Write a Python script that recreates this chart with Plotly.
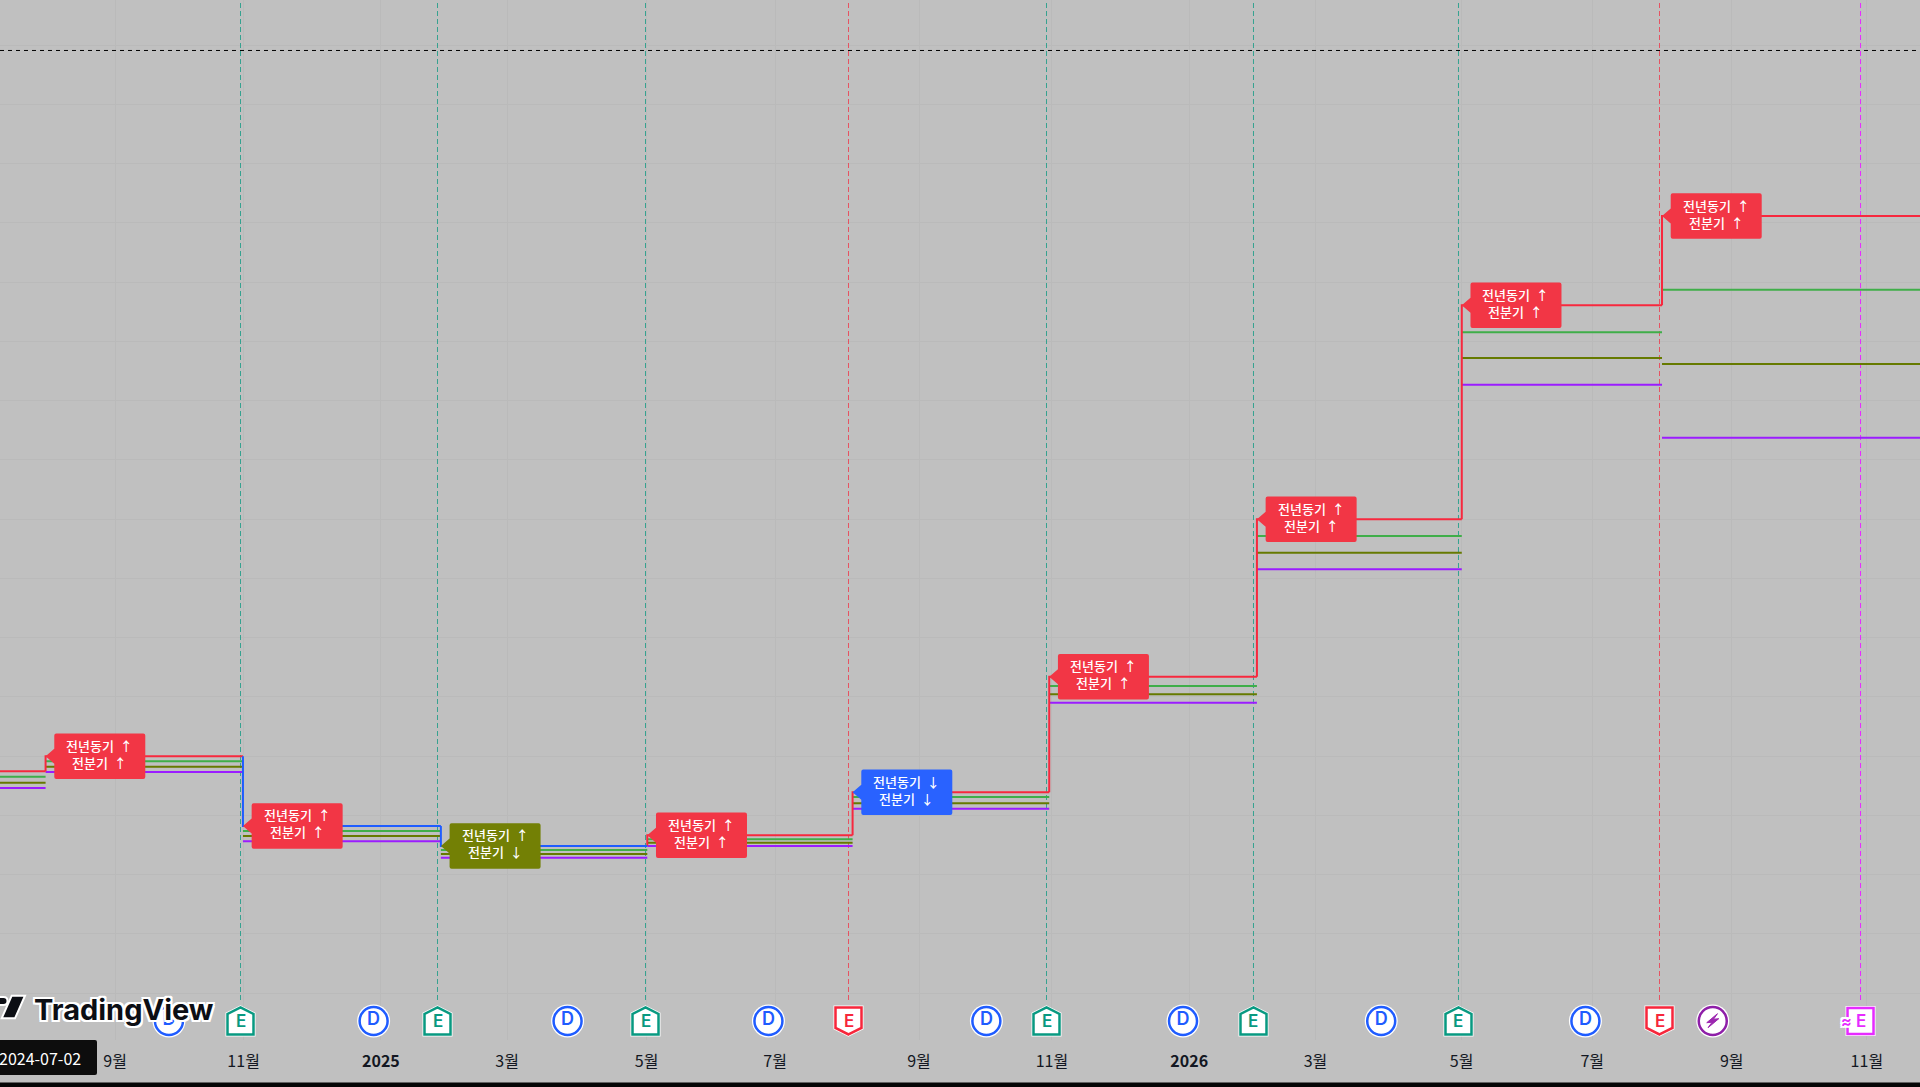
"""TradingView style earnings chart: estimate steps with surprise tags."""

import plotly.graph_objects as go

# ---------------------------------------------------------------------------
# Data
# ---------------------------------------------------------------------------

# Earnings steps: each level runs from step_dates[i] to step_dates[i + 1]
step_dates = [
    "2024-05-01", "2024-08-01 14:00", "2024-10-29 17:00", "2025-01-27 02:00",
    "2025-04-30 07:00", "2025-08-01", "2025-10-28 19:00", "2026-01-30 14:00",
    "2026-05-03 02:00", "2026-08-01 12:00", "2027-01-01",
]
actual_values = [47.42, 49.96, 38.19, 34.82, 36.62, 43.88, 63.39, 89.95, 126.07, 141.14]
high_values = [46.51, 49.11, 37.35, 34.14, 35.95, 43.09, 61.82, 87.14, 121.52, 128.71]
mean_values = [45.50, 48.20, 36.50, 33.47, 35.37, 42.02, 60.42, 84.32, 117.18, 116.17]
low_values = [44.60, 47.31, 35.61, 32.84, 34.82, 41.11, 59.00, 81.52, 112.67, 103.73]
actual_dirs = ["up", "up", "down", "down", "up", "up", "up", "up", "up", "up"]

# Tags, one for each step after the first
yoy_arrows = ["↑", "↑", "↑", "↑", "↓", "↑", "↑", "↑", "↑"]
qoq_arrows = ["↑", "↑", "↓", "↑", "↓", "↑", "↑", "↑", "↑"]

# Events along the bottom of the pane
earnings_dates = [
    "2024-10-28 14:24", "2025-01-25 13:26", "2025-04-29 11:46", "2025-07-30 03:40",
    "2025-10-27 13:26", "2026-01-29 00:43", "2026-05-01 14:24", "2026-07-31 08:53",
    "2026-10-30 03:22",
]
earnings_kinds = ["beat", "beat", "beat", "miss", "beat", "beat", "beat", "miss", "next"]
dividend_dates = [
    "2024-09-26 07:00", "2024-12-27 17:00", "2025-03-25 07:00", "2025-06-24",
    "2025-09-30 10:00", "2025-12-28 05:00", "2026-03-27 17:00", "2026-06-27 22:00",
]
split_date = "2026-08-24 10:00"

tick_dates = [
    "2024-09-02", "2024-10-30", "2024-12-31", "2025-02-26", "2025-04-30", "2025-06-27",
    "2025-08-31", "2025-10-30", "2025-12-31", "2026-02-26", "2026-05-03", "2026-07-01",
    "2026-09-02", "2026-11-02",
]
tick_labels = ["9월", "11월", "<b>2025</b>", "3월", "5월", "7월", "9월", "11월",
               "<b>2026</b>", "3월", "5월", "7월", "9월", "11월"]

last_price = 169.08
icon_level = 5.28
event_line_bottom = 8.82

# ---------------------------------------------------------------------------
# Styles
# ---------------------------------------------------------------------------

BG = "#c0c0c0"
GRID = "#bababa"
INK = "#131722"
RED = "#f7283e"
TAG_RED = "#f23645"
BLUE = "#1f5cff"
TAG_BLUE = "#2962ff"
TAG_OLIVE = "#738005"
GREEN = "#3fae49"
OLIVE = "#667a00"
PURPLE = "#9b1cff"
FONT = "Noto Sans CJK KR"
ICON_COLORS = {"beat": "#089981", "miss": "#f7263b", "next": "#e62bff"}
LINE_OPACITY = {"beat": 0.75, "miss": 0.7, "next": 1}
HALO = ",".join(f"{x}px {y}px 0 white" for x, y in
                [(-2, 0), (2, 0), (0, -2), (0, 2), (-2, -2), (2, -2), (-2, 2), (2, 2)])

X_RANGE = ["2024-07-12", "2026-11-26"]
Y_RANGE = [2.07, 177.6]
PANE_BOTTOM = 47


def step_xy(values):
    """One flat piece per step, with gaps between them."""
    xs, ys = [], []
    for i, value in enumerate(values):
        xs += [step_dates[i], step_dates[i + 1], None]
        ys += [value, value, None]
    return xs, ys


def actual_xy(direction):
    """Flat piece plus the riser into it, for the steps going one way."""
    xs, ys = [], []
    for i, value in enumerate(actual_values):
        if actual_dirs[i] != direction:
            continue
        start = actual_values[i - 1] if i else value
        xs += [step_dates[i], step_dates[i], step_dates[i + 1], None]
        ys += [start, value, value, None]
    return xs, ys


def tag_path():
    return ("M0,0 L8.7,7.5 L8.7,20.8 Q8.7,22.8 10.7,22.8 L97.7,22.8 Q99.7,22.8 99.7,20.8 "
            "L99.7,-20.8 Q99.7,-22.8 97.7,-22.8 L10.7,-22.8 Q8.7,-22.8 8.7,-20.8 L8.7,-7.5 Z")


def pixel_shape(x, y, path, fill, line=None, width=0, xref="x", yref="y"):
    """Path drawn in screen pixels around an anchor on the axes."""
    return dict(
        type="path", path=path, layer="above",
        xref=xref, yref=yref, xsizemode="pixel", ysizemode="pixel", xanchor=x, yanchor=y,
        fillcolor=fill, line=dict(color=line or fill, width=width),
    )


def icon_path(kind):
    if kind == "beat":
        return "M0,13.5 L13,7 L13,-13.5 L-13,-13.5 L-13,7 Z"
    if kind == "miss":
        return "M0,-13.5 L13,-7 L13,13.5 L-13,13.5 L-13,-7 Z"
    return "M-13,13 L13,13 L13,-13 L-13,-13 Z"


fig = go.Figure()

# Dashed event lines
for date, kind in zip(earnings_dates, earnings_kinds):
    fig.add_trace(go.Scatter(
        x=[date, date], y=[event_line_bottom, Y_RANGE[1]], mode="lines", opacity=LINE_OPACITY[kind],
        line=dict(color=ICON_COLORS[kind], width=1, dash="5px,3px"),
    ))

fig.add_trace(go.Scatter(
    x=[X_RANGE[0], X_RANGE[1]], y=[last_price, last_price], mode="lines",
    line=dict(color="#000000", width=1, dash="4px,4px"),
))

for values, color in [(low_values, PURPLE), (mean_values, OLIVE), (high_values, GREEN)]:
    xs, ys = step_xy(values)
    fig.add_trace(go.Scatter(x=xs, y=ys, mode="lines", line=dict(color=color, width=2)))

for direction, color in [("up", RED), ("down", BLUE)]:
    xs, ys = actual_xy(direction)
    fig.add_trace(go.Scatter(x=xs, y=ys, mode="lines", line=dict(color=color, width=2)))

# Dividend and split circles
circle_dates = dividend_dates + [split_date]
fig.add_trace(go.Scatter(
    x=circle_dates, y=[icon_level] * len(circle_dates), mode="markers",
    marker=dict(size=33, color="white"),
))
fig.add_trace(go.Scatter(
    x=dividend_dates, y=[icon_level] * len(dividend_dates), mode="markers+text",
    marker=dict(size=28, color="white", line=dict(color=BLUE, width=2.5)),
    text=["D"] * len(dividend_dates), textposition="middle center",
    textfont=dict(family="Inter", size=18, color=BLUE, weight=600),
))
fig.add_trace(go.Scatter(
    x=[split_date], y=[icon_level], mode="markers",
    marker=dict(size=28, color="white", line=dict(color="#8e1fa8", width=2.5)),
))

shapes = []
annotations = []

# Tags on the actual line
for i, (yoy, qoq) in enumerate(zip(yoy_arrows, qoq_arrows)):
    if yoy == qoq:
        tag_color = TAG_RED if yoy == "↑" else TAG_BLUE
    else:
        tag_color = TAG_OLIVE
    shapes.append(pixel_shape(step_dates[i + 1], actual_values[i + 1], tag_path(), tag_color))
    annotations.append(dict(
        x=step_dates[i + 1], y=actual_values[i + 1], xref="x", yref="y", xshift=54.2, yshift=2.5,
        text=f"전년동기\u00a0\u00a0{yoy}<br>전분기\u00a0\u00a0{qoq}", showarrow=False,
        font=dict(family=FONT, size=13, color="white", weight=500),
    ))

# Earnings icons
for date, kind in zip(earnings_dates, earnings_kinds):
    color = ICON_COLORS[kind]
    shapes.append(pixel_shape(date, icon_level, icon_path(kind), "white", "white", 4))
    shapes.append(pixel_shape(date, icon_level, icon_path(kind), "white", color, 2.5))
    annotations.append(dict(
        x=date, y=icon_level, xref="x", yref="y", yshift=-0.5, text="E", showarrow=False,
        font=dict(family="Inter", size=17, color=color, weight=600),
    ))
annotations.append(dict(
    x=earnings_dates[-1], y=icon_level, xref="x", yref="y", xshift=-14, text="≈", showarrow=False,
    font=dict(family="Inter", size=16, color=ICON_COLORS["next"], weight=600, shadow=HALO),
))
shapes.append(pixel_shape(split_date, icon_level, "M4.7,7.3 L-6,-1.7 L-0.7,-1.3 L-4.7,-6.7 L6,2.3 L0.7,1.7 Z",
                          "#9c27b0", "#9c27b0", 1))

# Watermark logo
shapes.append(pixel_shape(0, 0, "M11.7,44.3 L25,44.3 L15,21.7 L1.7,21.7 Z", "#0c0e14", "white", 2, "paper", "paper"))
shapes.append(pixel_shape(0, 0, "M-1,43 L3.5,43 Q7.5,43 7.5,39 Q7.5,35 3.5,35 L-1,35 Z", "#0c0e14", "white", 2, "paper", "paper"))
annotations.append(dict(
    x=124 / 1920, y=0, xref="paper", yref="paper", xanchor="center", yanchor="middle", yshift=31,
    text="TradingView", showarrow=False,
    font=dict(family="Inter", size=29, color="#0c0e14", weight=700, shadow=HALO),
))

# Crosshair date box and bottom edge
shapes.append(pixel_shape(0, 0, "M-3,0 L95,0 Q97,0 97,-2 L97,-33 Q97,-35 95,-35 L-3,-35 Z", "#0d0d0d", xref="paper", yref="paper"))
shapes.append(pixel_shape(0, 0, "M0,-42.5 L1920,-42.5 L1920,-47 L0,-47 Z", "#050505", xref="paper", yref="paper"))
annotations.append(dict(
    x=83 / 1920, y=0, xref="paper", yref="paper", xanchor="right", yanchor="middle", yshift=-17.5,
    text="2024-07-02", showarrow=False, font=dict(family=FONT, size=16, color="white"),
))

fig.update_layout(
    width=1920, height=1087,
    margin=dict(l=0, r=0, t=0, b=PANE_BOTTOM),
    paper_bgcolor=BG, plot_bgcolor=BG,
    showlegend=False, hovermode=False,
    shapes=shapes, annotations=annotations,
    xaxis=dict(
        type="date", range=X_RANGE, tickmode="array", tickvals=tick_dates, ticktext=tick_labels,
        showgrid=True, gridcolor=GRID, gridwidth=1, zeroline=False, showline=False, ticks="",
        ticklabelstandoff=10, tickfont=dict(family=FONT, size=16, color=INK),
    ),
    yaxis=dict(
        range=Y_RANGE, tick0=10, dtick=10, showgrid=True, gridcolor=GRID, gridwidth=1,
        zeroline=False, showline=False, showticklabels=False, ticks="",
    ),
)

fig.write_html(
    "out.html",
    config={"displayModeBar": False},
    post_script="document.body.style.margin='0';document.documentElement.style.overflow='hidden';",
)
